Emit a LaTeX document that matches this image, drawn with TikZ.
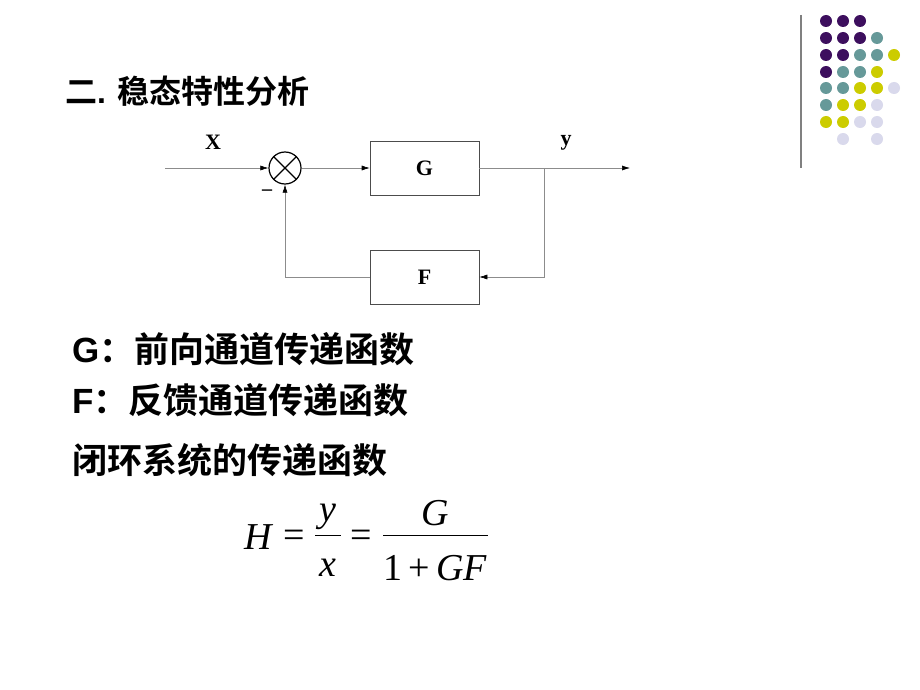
\documentclass[tikz,border=0pt]{standalone}
\usepackage{fontspec}
\setmainfont{Liberation Serif}
\newfontfamily\cjk{Noto Sans CJK SC}[BoldFont={Noto Sans CJK SC Bold}]
\newfontfamily\lsans{Liberation Sans}
\usetikzlibrary{arrows.meta}
\definecolor{P}{HTML}{3D0F5E}\definecolor{T}{HTML}{669999}
\definecolor{Y}{HTML}{CCCC00}\definecolor{L}{HTML}{D9D9EC}
\begin{document}
\begin{tikzpicture}[x=1pt,y=-1pt,
 blk/.style={draw=black!70,line width=0.6pt,minimum width=109pt,minimum height=54pt,font=\fontsize{22}{22}\selectfont\bfseries},
 ln/.style={draw=black!45,line width=0.6pt},
 arr/.style={ln,-{Latex[length=8pt,width=5pt,black]}},
 tx/.style={anchor=west,inner sep=0,font=\fontsize{35}{35}\selectfont\bfseries},
 eq/.style={inner sep=0,font=\fontsize{38}{38}\selectfont\itshape},
 eqr/.style={inner sep=0,font=\fontsize{38}{38}\selectfont}]
\useasboundingbox[fill=white] (0,0) rectangle (920,690);
% dots
\foreach \r/\row in {21/{P,P,P},38/{P,P,P,T},55/{P,P,T,T,Y},72/{P,T,T,Y},88/{T,T,Y,Y,L},105/{T,Y,Y,L},122/{Y,Y,L,L}}{
 \foreach \c [count=\i] in \row { \fill[\c] ({809+17*\i},\r) circle (6pt); }}
\fill[L] (843,139) circle (6pt); \fill[L] (877,139) circle (6pt);
\draw[gray,line width=1.2pt] (801,15) -- (801,168);
% title
\node[tx,font=\fontsize{32}{32}\selectfont\bfseries] (title) at (65,91) {\cjk\bfseries 二\lsans\bfseries. \cjk\bfseries 稳态特性分析};
% block diagram
\node[draw,line width=1.2pt,circle,minimum size=32pt,inner sep=0] (s) at (285,168) {};
\draw[line width=1.2pt] (s.45)--(s.225) (s.135)--(s.315);
\node[blk] (G) at (424.5,168) {G};
\node[blk] (F) at (424.5,277) {F};
\coordinate (in) at (165,168);
\coordinate (out) at (630,168);
\coordinate (br) at (544,168);
\coordinate (brd) at (544,277);
\coordinate (fl) at (285,277);
\draw[arr] (in) -- (s.west);
\draw[arr] (s.east) -- (G.west);
\draw[arr] (G.east) -- (out);
\draw[arr] (br) -- (brd) -- (F.east);
\draw[arr] (F.west) -- (fl) -- (s.south);
\node[font=\fontsize{22}{22}\selectfont\bfseries] (X) at (213,142) {X};
\node[font=\fontsize{22}{22}\selectfont\bfseries] (y) at (566,143) {y};
\node[font=\fontsize{20}{20}\selectfont\bfseries] (m) at (267,190) {\_};
% texts
\node[tx] (t1) at (72,349) {\lsans\bfseries G\cjk\bfseries ：前向通道传递函数};
\node[tx] (t2) at (72,400) {\lsans\bfseries F\cjk\bfseries ：反馈通道传递函数};
\node[tx] (t3) at (72,460) {\cjk\bfseries 闭环系统的传递函数};
% formula
\node[eq] (H) at (258,537) {H};
\node[eqr] (e1) at (294,539) {=};
\node[eq] (ny) at (328,517) {y};
\node[eq] (dx) at (328,568) {x};
\draw[line width=1pt] (315,535) -- (341,535);
\node[eqr] (e2) at (361,539) {=};
\node[eq] (nG) at (435,513) {G};
\node[eqr] (d1) at (435,568) {1\,+\,\itshape GF};
\draw[line width=1pt] (383,535) -- (488,535);
\end{tikzpicture}
\end{document}
